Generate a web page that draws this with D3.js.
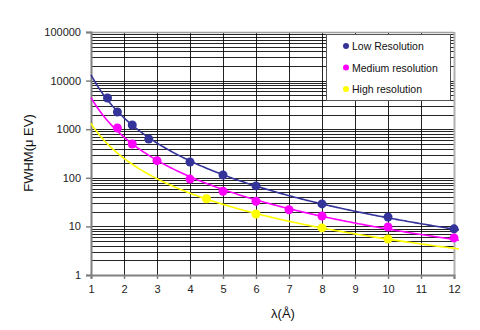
<!DOCTYPE html>
<html>
<head>
<meta charset="utf-8">
<script src="https://cdn.jsdelivr.net/npm/d3@7"></script>
<style>
html,body{margin:0;padding:0;background:#fff;}
svg{display:block;font-family:"Liberation Sans",Arial,sans-serif;}
</style>
</head>
<body>
<svg id="chart" width="480" height="330"></svg>
<script>
// ---- data ----
const lowX  = [1.5, 1.8, 2.25, 2.75, 4, 5, 6, 8, 10, 12];
const lowY  = [4390, 2260, 1220, 630, 211, 114, 68, 29, 15.6, 8.9];
const medX  = [1.8, 2.25, 3, 4, 5, 6, 7, 8, 10, 12];
const medY  = [1060, 495, 225, 94, 53, 33, 22, 16.4, 9.7, 5.8];
const highX = [4.5, 6, 8, 10];
const highY = [37, 18, 9.3, 5.5];
const seriesNames  = ["Low Resolution", "Medium resolution", "High resolution"];
const seriesColors = ["#333399", "#ff00ff", "#ffff00"];
const xTicks = [1,2,3,4,5,6,7,8,9,10,11,12];
const yTicks = [1,10,100,1000,10000,100000];
const xTitle = "λ(Å)";
const yTitle = "FWHM(μ EV)";

const series = [
  {name: seriesNames[0], color: seriesColors[0], xs: lowX, ys: lowY},
  {name: seriesNames[1], color: seriesColors[1], xs: medX, ys: medY},
  {name: seriesNames[2], color: seriesColors[2], xs: highX, ys: highY}
];

// ---- layout ----
const svg = d3.select("#chart");
const m = {left: 91, right: 26, top: 32, bottom: 55};
const W = 480, H = 330;
const x = d3.scaleLinear().domain([1, 12]).range([m.left, W - m.right]);
const y = d3.scaleLog().domain([1, 100000]).range([H - m.bottom, m.top]);

// gridlines
const minor = [];
for (let d = 0; d < 5; d++) for (let k = 1; k <= 9; k++) minor.push(k * Math.pow(10, d));
minor.push(100000);
const g = svg.append("g");
g.selectAll("line.h").data(minor).join("line")
  .attr("x1", m.left).attr("x2", W - m.right)
  .attr("y1", d => Math.round(y(d)) + 0.5).attr("y2", d => Math.round(y(d)) + 0.5)
  .attr("stroke", "#000").attr("stroke-width", 1).attr("opacity", 0.85);
g.selectAll("line.v").data(xTicks.slice(1, -1)).join("line")
  .attr("y1", m.top).attr("y2", H - m.bottom)
  .attr("x1", d => Math.round(x(d)) + 0.5).attr("x2", d => Math.round(x(d)) + 0.5)
  .attr("stroke", "#000").attr("stroke-width", 1).attr("opacity", 0.85);

// plot border (right/top light gray)
svg.append("line").attr("x1", W - m.right + 0.5).attr("x2", W - m.right + 0.5)
  .attr("y1", m.top).attr("y2", H - m.bottom).attr("stroke", "#b0b0b0").attr("stroke-width", 2);
svg.append("line").attr("x1", m.left).attr("x2", W - m.right)
  .attr("y1", m.top + 0.5).attr("y2", m.top + 0.5).attr("stroke", "#a0a0a0").attr("stroke-width", 1.5);

// axes
const yAxis = d3.axisLeft(y).tickValues(yTicks).tickFormat(d3.format("d")).tickSize(5).tickPadding(5);
const xAxis = d3.axisBottom(x).tickValues(xTicks).tickFormat(d3.format("d")).tickSize(4).tickPadding(6);
const ya = svg.append("g").attr("transform", `translate(${m.left},0)`).call(yAxis);
const xa = svg.append("g").attr("transform", `translate(0,${H - m.bottom})`).call(xAxis);
[ya, xa].forEach(a => {
  a.select(".domain").attr("stroke", "#808080").attr("stroke-width", 2);
  a.selectAll(".tick line").attr("stroke", "#808080").attr("stroke-width", 1.5);
  a.selectAll(".tick text").attr("fill", "#222").attr("font-size", 11)
    .attr("font-family", "Liberation Sans, Arial, sans-serif");
});

// power-law trendlines (least squares in log-log, like a spreadsheet power trendline)
function powerFit(xs, ys) {
  const lx = xs.map(Math.log), ly = ys.map(Math.log);
  const mx = d3.mean(lx), my = d3.mean(ly);
  const b = d3.sum(lx, (v, i) => (v - mx) * (ly[i] - my)) / d3.sum(lx, v => (v - mx) * (v - mx));
  const a = Math.exp(my - b * mx);
  return xv => a * Math.pow(xv, b);
}
const line = d3.line().x(d => x(d[0])).y(d => y(d[1])).curve(d3.curveLinear);
const samples = d3.range(1, 12.16, 0.05);
series.forEach(s => {
  const f = powerFit(s.xs, s.ys);
  svg.append("path").attr("d", line(samples.map(v => [v, f(v)])))
    .attr("fill", "none").attr("stroke", s.color).attr("stroke-width", 1.6);
});
// markers
series.forEach(s => {
  svg.append("g").selectAll("circle").data(s.xs.map((v, i) => [v, s.ys[i]])).join("circle")
    .attr("cx", d => x(d[0])).attr("cy", d => y(d[1])).attr("r", 4.5)
    .attr("fill", s.color);
});

// legend
const lg = svg.append("g");
lg.append("rect").attr("x", 326.5).attr("y", 34.5).attr("width", 124).attr("height", 66)
  .attr("fill", "#fff").attr("stroke", "#555").attr("stroke-width", 1);
series.forEach((s, i) => {
  const cy = 46 + i * 21.5;
  lg.append("circle").attr("cx", 346).attr("cy", cy).attr("r", 3).attr("fill", s.color);
  lg.append("text").attr("x", 352).attr("y", cy + 4).attr("font-size", 10.5)
    .attr("fill", "#111").text(s.name);
});

// titles
svg.append("text").attr("x", 283).attr("y", 318).attr("text-anchor", "middle")
  .attr("font-size", 13).attr("fill", "#111").text(xTitle);
svg.append("text").attr("transform", "translate(33,153) rotate(-90)").attr("text-anchor", "middle")
  .attr("font-size", 13).attr("fill", "#111").text(yTitle);
</script>
</body>
</html>
